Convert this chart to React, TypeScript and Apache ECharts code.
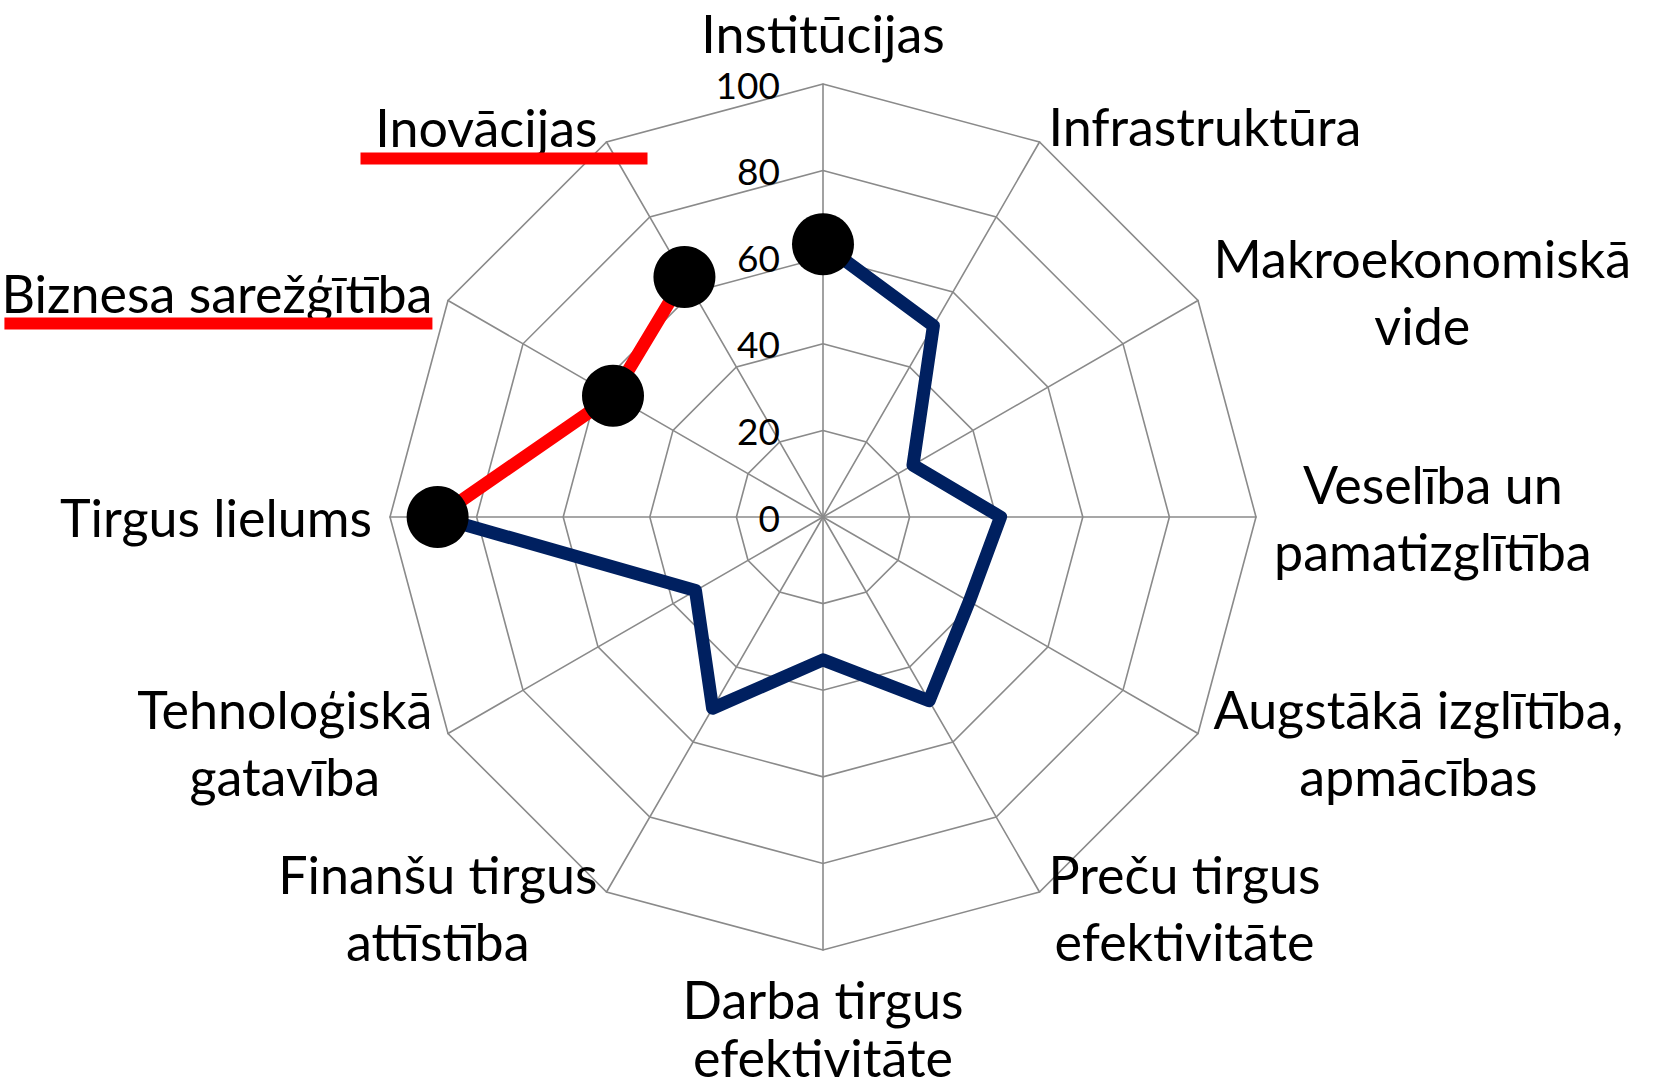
import React, { useEffect, useRef } from "react";
import * as echarts from "echarts";

// Pillars, in clockwise order starting from the top
const categories: string[] = [
  "Institūcijas",
  "Infrastruktūra",
  "Makroekonomiskā\nvide",
  "Veselība un\npamatizglītība",
  "Augstākā izglītība,\napmācības",
  "Preču tirgus\nefektivitāte",
  "Darba tirgus\nefektivitāte",
  "Finanšu tirgus\nattīstība",
  "Tehnoloģiskā\ngatavība",
  "Tirgus lielums",
  "Biznesa sarežģītība",
  "Inovācijas",
];

// Scores (0-100) per pillar
const scores: number[] = [63, 51, 24, 41, 39, 49, 33, 51, 34, 89, 56, 64];

// Indices drawn by each line
const blueIdx: number[] = [0, 1, 2, 3, 4, 5, 6, 7, 8, 9];
const redIdx: number[] = [9, 10, 11, 0];

// Axis ticks
const tickValues: number[] = [0, 20, 40, 60, 80, 100];

// Underlined pillar names
const underlined: string[] = ["Inovācijas", "Biznesa sarežģītība"];

export default function App() {
  const ref = useRef<HTMLDivElement>(null);

  useEffect(() => {
    if (!ref.current) return;
    const chart = echarts.init(ref.current, null, { renderer: "svg" });

    const font = "Lato";
    const nameSize = 52;
    const lineH = 67;
    const center = [823, 517];
    const radius = 433;
    const gray = "#8a8a8a";
    const n = categories.length;
    const bottomIdx = n / 2;

    // ECharts radar places indicators counter-clockwise; reverse to get clockwise
    const radarOrder = [0];
    for (let k = n - 1; k >= 1; k--) radarOrder.push(k);

    const indicator = radarOrder.map((i) => {
      const name = categories[i];
      const ind: any = {
        name,
        min: tickValues[0],
        max: tickValues[tickValues.length - 1],
      };
      if (i === 0) {
        ind.axisLabel = {
          show: true,
          color: "#000",
          fontSize: 37,
          fontFamily: font,
          margin: 43,
          padding: [6, 0, 0, 0],
        };
      }
      if (i === bottomIdx) ind.nameGap = 20;
      if (name === underlined[0]) ind.nameTextStyle = { padding: [14, -50, 0, 0] };
      if (name === underlined[1]) ind.nameTextStyle = { padding: [14, 0, 0, 0] };
      return ind;
    });

    const formatName = (name: string) => {
      if (name === underlined[0]) return `{tr|${name}}{gap|}\n{u1|}`;
      if (name === underlined[1]) return `{tr|${name}}\n{u2|}`;
      const key = name === categories[bottomIdx] ? "tb" : "t";
      return name
        .split("\n")
        .map((l) => `{${key}|${l}}`)
        .join("\n");
    };

    const option: any = {
      animation: false,
      backgroundColor: "#ffffff",
      textStyle: { fontFamily: font },
      radar: {
        center,
        radius,
        startAngle: 90,
        shape: "polygon",
        splitNumber: tickValues.length - 1,
        indicator,
        axisNameGap: 18,
        axisName: {
          color: "#000",
          fontSize: nameSize,
          fontFamily: font,
          formatter: formatName,
          rich: {
            t: { fontSize: nameSize, fontFamily: font, color: "#000", lineHeight: lineH, align: "center" },
            tb: { fontSize: nameSize, fontFamily: font, color: "#000", lineHeight: 58, align: "center" },
            tr: { fontSize: nameSize, fontFamily: font, color: "#000", lineHeight: 50, align: "right" },
            gap: { width: 50, height: 1, lineHeight: 50, align: "right" },
            u1: { width: 287, height: 12, lineHeight: 12, backgroundColor: "#ff0000", align: "right" },
            u2: { width: 428, height: 12, lineHeight: 12, backgroundColor: "#ff0000", align: "right" },
          },
        },
        axisLabel: { show: false },
        axisLine: { lineStyle: { color: gray, width: 1.6 } },
        axisTick: { show: false },
        splitLine: { lineStyle: { color: gray, width: 1.6 } },
        splitArea: { show: false },
      },
      polar: { center, radius },
      angleAxis: {
        type: "category",
        data: categories,
        startAngle: 90,
        clockwise: true,
        boundaryGap: false,
        show: false,
      },
      radiusAxis: {
        type: "value",
        min: tickValues[0],
        max: tickValues[tickValues.length - 1],
        show: false,
      },
      series: [
        {
          type: "line",
          coordinateSystem: "polar",
          data: blueIdx.map((i) => [scores[i], categories[i]]),
          showSymbol: false,
          silent: true,
          z: 3,
          lineStyle: { color: "#002060", width: 13, join: "round", cap: "round" },
          itemStyle: { color: "#002060" },
        },
        {
          type: "line",
          coordinateSystem: "polar",
          data: redIdx.map((i) => [scores[i], categories[i]]),
          symbol: "circle",
          symbolSize: 62,
          showSymbol: true,
          silent: true,
          z: 4,
          lineStyle: { color: "#ff0000", width: 13, join: "round" },
          itemStyle: { color: "#000000", borderWidth: 0 },
        },
      ],
    };

    chart.setOption(option);
    return () => chart.dispose();
  }, []);

  return (
    <div
      ref={ref}
      style={{ position: "absolute", left: 0, top: 0, width: 1657, height: 1092, background: "#fff" }}
    />
  );
}
